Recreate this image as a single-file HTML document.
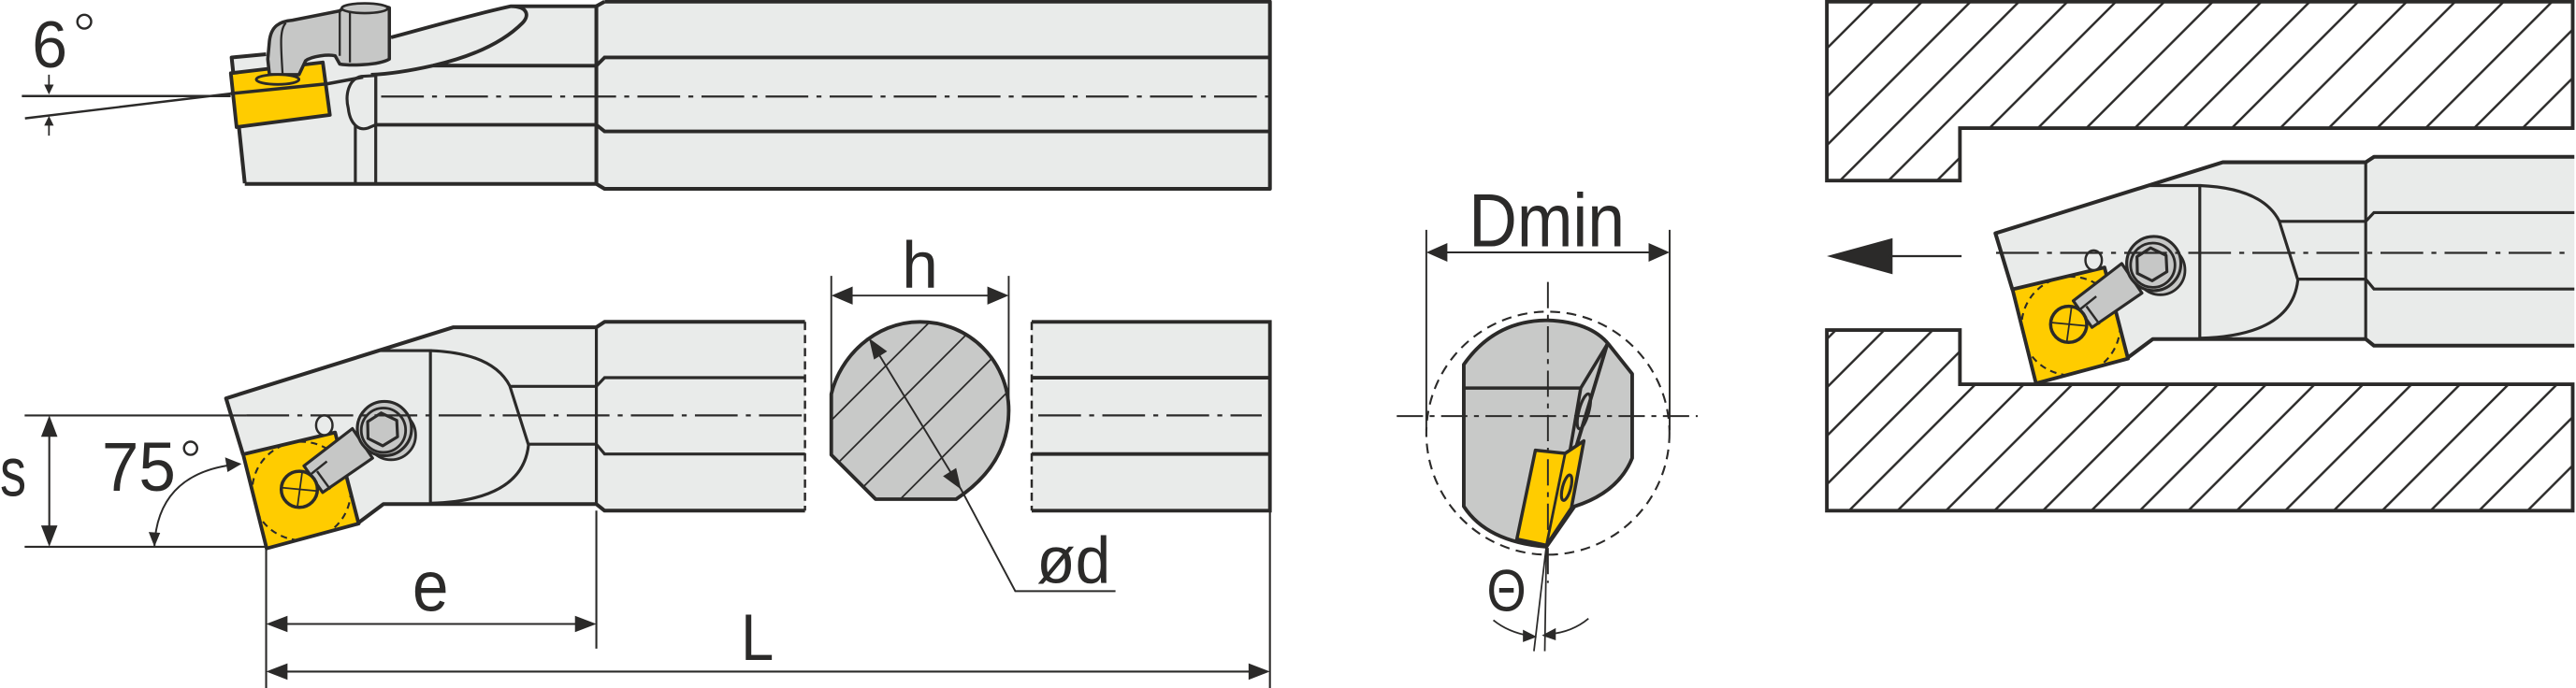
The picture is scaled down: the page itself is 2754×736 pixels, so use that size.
<!DOCTYPE html>
<html><head><meta charset="utf-8"><style>
html,body{margin:0;padding:0;background:#fff;}
svg{display:block;}
text{font-family:"Liberation Sans",sans-serif;fill:#2b2a29;}
</style></head><body>
<svg width="2754" height="736" viewBox="0 0 1568 419" preserveAspectRatio="none" xmlns="http://www.w3.org/2000/svg">
<defs>
<pattern id="hatch" patternUnits="userSpaceOnUse" width="29.5" height="29.5" x="1112" y="0">
<path d="M-2,31.5 L31.5,-2 M-2,2 L2,-2 M27.5,31.5 L31.5,27.5" stroke="#2b2a29" stroke-width="1.4"/>
</pattern>
<clipPath id="insClip"><polygon points="148,276.7 204,263.4 218.3,318.9 162.3,334"/></clipPath>
<clipPath id="secClip"><path d="M533,304 L582,304 C603,290 614,272 614,250 C614,220 590,196 560,196 C532,196 511,218 506,240 L506,277 Z"/></clipPath>
<g id="tool">
<polygon points="137.6,242.6 276,199.3 363,199.3 368,196 490,196 490,311 368,311 363,307 233.4,307 218,319 162,334 148,277" fill="#e9ebea"/>
<path d="M148,277 L137.6,242.6 L276,199.3 L363,199.3 L368,196 L490,196 M490,311 L368,311 L363,307 L233.4,307 L217.3,319" fill="none" stroke="#2b2a29" stroke-width="2.3" stroke-linejoin="round"/>
<path d="M231.5,213.5 L262,213.5 L262,306.5 M262,213.5 Q300,215 310.3,235 L321.7,271 Q318,305 262,306.5 M310.3,235.3 L363,235.3 L368,230 L490,230 M321.7,270.5 L363,270.5 L368,276.5 L490,276.5 M363,199.3 L363,307" fill="none" stroke="#2b2a29" stroke-width="1.8"/>
<polygon points="148,276.7 204,263.4 218.3,318.9 162.3,334" fill="#ffcc00" stroke="#2b2a29" stroke-width="2.2" stroke-linejoin="round"/>
<circle cx="183.5" cy="299" r="30" fill="none" stroke="#2b2a29" stroke-width="1.2" stroke-dasharray="4,3" clip-path="url(#insClip)"/>
<ellipse cx="197.4" cy="259" rx="5" ry="6" fill="#e9ebea" stroke="#2b2a29" stroke-width="1.4"/>
<polygon points="185,283.7 214.5,261 226.8,279 196.4,299.9" fill="#c6c7c6" stroke="#2b2a29" stroke-width="1.8" stroke-linejoin="round"/>
<path d="M189,289 L199,281 M201,298 L193,287" stroke="#2b2a29" stroke-width="1.4"/>
<circle cx="182.2" cy="298" r="11" fill="#ffcc00" stroke="#2b2a29" stroke-width="2"/>
<path d="M172,297 L193,299 M184,287 L181,309" stroke="#2b2a29" stroke-width="1"/>
<circle cx="238" cy="265" r="15" fill="#c6c7c6" stroke="#2b2a29" stroke-width="1.6"/>
<circle cx="234" cy="261" r="16.5" fill="#c6c7c6" stroke="#2b2a29" stroke-width="1.8"/>
<circle cx="233.4" cy="262" r="13.5" fill="#c6c7c6" stroke="#2b2a29" stroke-width="1.6"/>
<polygon points="232,251.5 241.5,256 242,266 233,271.5 224,267 223.8,256.8" fill="#c6c7c6" stroke="#2b2a29" stroke-width="1.8" stroke-linejoin="round"/>
</g>
</defs>

<!-- ================= TOP VIEW ================= -->
<polygon points="141,35 162,33 238,22.8 311,3.8 363,3.8 368,1 773,1 773,115 368,115 363,112 149,112" fill="#e9ebea"/>
<path d="M149,111.6 L141,35 L162,33 M368,1 L773,1 L773,115 L368,115 L363,112 L149,112 M363,3.8 L368,1 M363,3.8 L363,112" fill="none" stroke="#2b2a29" stroke-width="2.3" stroke-linejoin="round"/>
<path d="M238,22.8 C270,14 292,8 311,3.8 L363,3.8 M311,3.8 C322,4 322,10 318,14 C305,27 285,35 263.7,39.9 L363,40 L368,35 L773,35 M263.7,39.9 C250,43 238,45 225.8,45.5" fill="none" stroke="#2b2a29" stroke-width="2.2"/>
<path d="M228.7,76 L363,76 L368,80 L773,80" fill="none" stroke="#2b2a29" stroke-width="2.2"/>
<path d="M216.3,50 L216.3,112 M228.7,46 L228.7,112" stroke="#2b2a29" stroke-width="1.8"/>
<path d="M220,46.5 C212,48 210,58 212,66 C213,75 218,80 224,78 L228.7,76 L228.7,46 Z" fill="#e9ebea" stroke="#2b2a29" stroke-width="1.8"/>
<polygon points="140.5,44.6 196.5,38 200.8,70 144,77.4" fill="#ffcc00" stroke="#2b2a29" stroke-width="2.2" stroke-linejoin="round"/>
<path d="M140.4,57 L199.3,51 L221,47" stroke="#2b2a29" stroke-width="2" fill="none"/>
<path d="M164,45.5 L163,36 L164,25 C165,16 170,13 178,12.3 L206.8,6.6 C210,3 230,2 237,4.7 L237,36 C230,40 212,40 206.8,39 L204,34 C200,33 190,34 186,37 L182,45.5 Z" fill="#c6c7c6" stroke="#2b2a29" stroke-width="2" stroke-linejoin="round"/>
<path d="M206.8,6.6 L206.8,34 M213,6 L213,38 M174,14 C170,18 171,28 172,45" fill="none" stroke="#2b2a29" stroke-width="1.3"/>
<ellipse cx="222" cy="5" rx="14" ry="3" fill="#c6c7c6" stroke="#2b2a29" stroke-width="1.5"/>
<ellipse cx="169" cy="48.4" rx="13" ry="3" fill="#ffcc00" stroke="#2b2a29" stroke-width="1.6"/>
<path d="M232,58.8 L773,58.8" stroke="#2b2a29" stroke-width="1.3" stroke-dasharray="26,5,3,5"/>
<path d="M13.3,58.5 L140.4,58.5 M15.2,72.1 L140.4,57" stroke="#2b2a29" stroke-width="1.4"/>
<path d="M29.8,45.5 L29.8,52 M29.8,75 L29.8,82.6" stroke="#2b2a29" stroke-width="1"/>
<polygon points="29.8,57.6 26.9,51.5 32.7,51.5" fill="#2b2a29"/>
<polygon points="29.8,70.6 26.9,76.5 32.7,76.5" fill="#2b2a29"/>
<text x="19.5" y="41" font-size="40" textLength="21.5" lengthAdjust="spacingAndGlyphs">6</text>
<circle cx="51.3" cy="13.2" r="4.2" fill="none" stroke="#2b2a29" stroke-width="1.4"/>

<!-- ================= BOTTOM VIEW ================= -->
<use href="#tool"/>
<path d="M490,196 L490,311" stroke="#2b2a29" stroke-width="1.4" stroke-dasharray="5,3"/>
<rect x="628" y="196" width="145" height="115" fill="#e9ebea"/>
<path d="M628,196 L773,196 L773,311 L628,311 M628,230 L773,230 M628,276.5 L773,276.5" fill="none" stroke="#2b2a29" stroke-width="2.2"/>
<path d="M628,196 L628,311" stroke="#2b2a29" stroke-width="1.4" stroke-dasharray="5,3"/>
<path d="M15,253 L150,253" stroke="#2b2a29" stroke-width="1.2"/>
<path d="M150,253 L488,253 M632,253 L768,253" stroke="#2b2a29" stroke-width="1.3" stroke-dasharray="26,5,3,5"/>
<path d="M15,333 L162,333 M30,262 L30,324" stroke="#2b2a29" stroke-width="1.2"/>
<polygon points="30,253 25,266 35,266" fill="#2b2a29"/>
<polygon points="30,333 25,320 35,320" fill="#2b2a29"/>
<text x="0" y="302" font-size="42" textLength="16" lengthAdjust="spacingAndGlyphs">s</text>
<path d="M94,333 C95,305 110,287 142,283" fill="none" stroke="#2b2a29" stroke-width="1.1"/>
<polygon points="147,282.5 137,278.5 138.5,287.5" fill="#2b2a29"/>
<polygon points="94,333 90.5,324 97.5,324.5" fill="#2b2a29"/>
<text x="62" y="299" font-size="42" textLength="45" lengthAdjust="spacingAndGlyphs">75</text>
<circle cx="116" cy="273" r="4" fill="none" stroke="#2b2a29" stroke-width="1.4"/>
<path d="M162,334 L162,419 M363,311 L363,395 M773,311 L773,419 M172,380 L352,380 M172,409 L763,409" stroke="#2b2a29" stroke-width="1.2"/>
<polygon points="162,380 175,375 175,385" fill="#2b2a29"/>
<polygon points="363,380 350,375 350,385" fill="#2b2a29"/>
<polygon points="162,409 175,404 175,414" fill="#2b2a29"/>
<polygon points="773,409 760,404 760,414" fill="#2b2a29"/>
<text x="251" y="372" font-size="44" textLength="22" lengthAdjust="spacingAndGlyphs">e</text>
<text x="451" y="402" font-size="40" textLength="20" lengthAdjust="spacingAndGlyphs">L</text>
<!-- cross-section -->
<path d="M533,304 L582,304 C603,290 614,272 614,250 C614,220 590,196 560,196 C532,196 511,218 506,240 L506,277 Z" fill="#c8c9c8"/>
<g clip-path="url(#secClip)" stroke="#2b2a29" stroke-width="1">
<path d="M500,262 L572,190 M500,292 L592,200 M515,307 L612,210 M540,312 L625,227"/>
</g>
<path d="M533,304 L582,304 C603,290 614,272 614,250 C614,220 590,196 560,196 C532,196 511,218 506,240 L506,277 Z" fill="none" stroke="#2b2a29" stroke-width="2.2" stroke-linejoin="round"/>
<path d="M529,206 L585,298 L618,360 L679,360" fill="none" stroke="#2b2a29" stroke-width="1.1"/>
<polygon points="529,206 532,219 540,214" fill="#2b2a29"/>
<polygon points="585,298 582,285 574,290" fill="#2b2a29"/>
<text x="631" y="355" font-size="40" textLength="45" lengthAdjust="spacingAndGlyphs">ød</text>
<path d="M506,168 L506,255 M614,168 L614,255 M516,180 L604,180" stroke="#2b2a29" stroke-width="1.1"/>
<polygon points="506,180 519,174.5 519,185.5" fill="#2b2a29"/>
<polygon points="614,180 601,174.5 601,185.5" fill="#2b2a29"/>
<text x="549" y="175" font-size="40" textLength="22" lengthAdjust="spacingAndGlyphs">h</text>

<!-- ================= MIDDLE SECTION ================= -->
<path d="M868.2,140 L868.2,262 M1016.3,140 L1016.3,262 M880,153.7 L1004,153.7" stroke="#2b2a29" stroke-width="1.1"/>
<polygon points="868.2,153.7 881,148 881,159.4" fill="#2b2a29"/>
<polygon points="1016.3,153.7 1003.5,148 1003.5,159.4" fill="#2b2a29"/>
<text x="894" y="150" font-size="46" textLength="95" lengthAdjust="spacingAndGlyphs">Dmin</text>
<circle cx="942.2" cy="263.8" r="74" fill="none" stroke="#2b2a29" stroke-width="1.2" stroke-dasharray="6,4"/>
<path d="M891,222 Q910,195 942.2,195.1 Q968,196 979.2,209.7 L993.5,227.7 L993.5,279 Q985,300 958.4,308.4 L941.3,333 Q905,330 891,308.4 Z" fill="#c8c9c8" stroke="#2b2a29" stroke-width="2.2" stroke-linejoin="round"/>
<path d="M891,236.3 L962.2,236.3 L978.3,209.7 M962.2,236.3 L953,290" fill="none" stroke="#2b2a29" stroke-width="2"/>
<path d="M978.3,209.7 L941.3,332.1" stroke="#2b2a29" stroke-width="2.2"/>
<polygon points="934.6,274.2 952.7,276.1 964.1,268.5 956.5,309.3 941.3,332.1 923.3,328.3" fill="#ffcc00" stroke="#2b2a29" stroke-width="2" stroke-linejoin="round"/>
<path d="M952.7,276.1 L941.3,332.1" stroke="#2b2a29" stroke-width="1.6"/>
<ellipse cx="964.1" cy="250.5" rx="3" ry="11" transform="rotate(15 964.1 250.5)" fill="none" stroke="#2b2a29" stroke-width="1.8"/>
<ellipse cx="953.6" cy="297" rx="2.5" ry="8" transform="rotate(15 953.6 297)" fill="none" stroke="#2b2a29" stroke-width="1.8"/>
<path d="M942.2,171.7 L942.2,355" stroke="#2b2a29" stroke-width="1.1" stroke-dasharray="16,4,3,4"/>
<path d="M850.2,253.4 L1033.4,253.4" stroke="#2b2a29" stroke-width="1.1" stroke-dasharray="16,4,3,4"/>
<path d="M941.3,332.1 L933.7,396.6 M941.3,332.1 L940.3,396.6" stroke="#2b2a29" stroke-width="1"/>
<path d="M909,377.7 Q918,385 931,387.2 M966.9,376.7 Q957,385 943,386.2" fill="none" stroke="#2b2a29" stroke-width="1"/>
<polygon points="935.5,387.8 927,383.5 927,391" fill="#2b2a29"/>
<polygon points="938.5,387 947,382.5 947,390" fill="#2b2a29"/>
<text x="905" y="372" font-size="36" textLength="24" lengthAdjust="spacingAndGlyphs">Θ</text>

<!-- ================= RIGHT VIEW ================= -->
<path d="M1112,1 L1566,1 L1566,78 L1193,78 L1193,110 L1112,110 Z" fill="url(#hatch)" stroke="#2b2a29" stroke-width="2.2"/>
<path d="M1112,201 L1193,201 L1193,234 L1566,234 L1566,311 L1112,311 Z" fill="url(#hatch)" stroke="#2b2a29" stroke-width="2.2"/>
<polygon points="1112,156 1152,145 1152,167" fill="#2b2a29"/>
<path d="M1150,156 L1194,156" stroke="#2b2a29" stroke-width="1.3"/>
<use href="#tool" transform="translate(1077,-100.5)"/>
<path d="M1215,154 L1566,154" stroke="#2b2a29" stroke-width="1.3" stroke-dasharray="26,5,3,5"/>
</svg>
</body></html>
